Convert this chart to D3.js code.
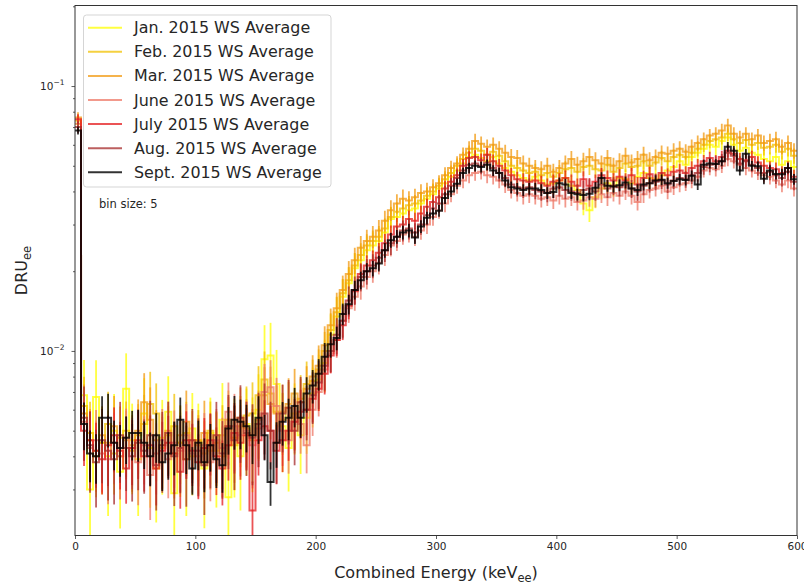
<!DOCTYPE html>
<html>
<head>
<meta charset="utf-8">
<script src="https://cdn.jsdelivr.net/npm/d3@7"></script>
<style>
body { margin: 0; background: #fff; }
text { font-family: "DejaVu Sans", sans-serif; }
</style>
</head>
<body>
<script>

var width = 804;
var height = 586;
var plot = {left: 75, right: 797, top: 5.5, bottom: 535.5};

const binSize = 5;
const unit = 1e-3;   // values below are in units of 1e-3 DRU

const labels = ['Jan. 2015 WS Average', 'Feb. 2015 WS Average', 'Mar. 2015 WS Average',
    'June 2015 WS Average', 'July 2015 WS Average', 'Aug. 2015 WS Average', 'Sept. 2015 WS Average'];

const jan = [
    72, 6.8, 3.0, 6.7, 4.5, 4.0, 5.0, 3.5, 7.2, 4.6,
    3.9, 5.8, 4.3, 3.6, 4.7, 5.9, 2.9, 4.5, 3.9, 5.1,
    4.6, 3.6, 4.9, 4.2, 5.5, 2.8, 4.7, 4.0, 5.3, 4.8,
    6.0, 9.3, 9.6, 7.5, 5.2, 4.3, 5.8, 4.8, 5.6, 6.9,
    7.8, 9.0, 11.5, 13.5, 16.0, 18.0, 20.5, 22.0, 24.0, 25.0,
    26.0, 28.0, 31.5, 32.0, 33.0, 34.0, 34.5, 36.0, 37.5, 39.0,
    41.0, 43.0, 45.5, 48.0, 51.0, 54.0, 55.0, 53.5, 52.0, 54.0,
    51.0, 49.0, 47.5, 46.0, 45.0, 44.0, 45.5, 44.0, 42.5, 43.0,
    44.0, 45.0, 42.0, 40.5, 36.0, 34.0, 38.0, 41.0, 43.0, 42.0,
    45.0, 44.5, 43.0, 45.5, 47.0, 45.0, 44.5, 46.0, 48.0, 49.5,
    52.0, 50.5, 54.0, 56.0, 58.0, 60.0, 59.0, 62.0, 64.0, 60.0,
    57.0, 58.5, 56.0, 55.0, 53.0, 52.0, 54.0, 50.5, 52.0, 49.5];

const feb = [
    74, 6.2, 4.9, 4.0, 4.5, 5.3, 4.1, 4.7, 5.0, 4.2,
    4.8, 5.3, 6.3, 5.8, 4.4, 4.8, 5.2, 4.5, 4.9, 4.0,
    4.6, 4.1, 5.0, 4.5, 4.8, 5.5, 4.4, 5.2, 5.7, 5.8,
    6.8, 7.8, 6.9, 5.9, 5.5, 6.1, 5.6, 6.6, 7.5, 7.7,
    8.5, 10.0, 12.0, 14.0, 16.5, 18.5, 21.0, 23.0, 25.0, 26.0,
    27.0, 29.0, 32.0, 33.5, 34.5, 35.5, 36.0, 37.0, 38.5, 40.0,
    42.0, 44.5, 47.0, 50.0, 53.0, 56.0, 58.0, 57.0, 55.0, 56.5,
    54.5, 52.0, 50.0, 49.0, 48.0, 47.0, 47.5, 46.0, 47.0, 45.5,
    47.0, 48.5, 49.0, 47.5, 49.5, 50.0, 48.5, 48.0, 50.5, 47.5,
    49.0, 51.0, 49.5, 50.0, 52.0, 50.0, 51.5, 53.5, 52.0, 54.0,
    55.0, 54.0, 56.0, 58.0, 60.0, 62.0, 63.0, 64.0, 66.0, 63.0,
    61.0, 62.5, 60.0, 61.0, 58.5, 59.0, 60.0, 56.5, 58.0, 54.5];

const mar = [
    76, 5.8, 4.6, 4.2, 4.8, 4.5, 5.2, 4.0, 4.6, 4.4,
    5.0, 6.4, 5.5, 4.6, 4.3, 5.0, 4.1, 4.8, 5.4, 4.6,
    4.4, 4.9, 4.2, 4.5, 4.0, 5.2, 4.7, 5.6, 5.1, 4.6,
    5.5, 6.8, 6.3, 5.8, 5.9, 6.3, 6.9, 6.4, 7.2, 8.0,
    8.8, 10.5, 12.5, 14.5, 17.0, 19.5, 22.0, 24.5, 26.0, 27.0,
    28.5, 31.0, 34.0, 36.0, 37.5, 37.0, 38.0, 39.5, 40.0, 41.5,
    43.0, 46.0, 49.0, 51.0, 55.0, 58.0, 62.0, 60.5, 59.0, 60.0,
    58.0, 56.0, 54.0, 53.5, 51.0, 50.0, 49.0, 48.5, 50.0, 47.5,
    49.0, 51.0, 53.0, 50.5, 52.0, 54.0, 52.5, 51.0, 53.5, 50.0,
    52.0, 54.5, 51.5, 53.0, 55.0, 52.5, 54.0, 56.0, 55.5, 57.0,
    58.0, 56.5, 59.0, 61.0, 63.0, 65.0, 66.0, 68.0, 71.0, 66.0,
    64.0, 66.0, 63.0, 65.0, 61.0, 62.0, 63.0, 59.0, 61.0, 57.0];

const june = [
    72, 5.4, 4.3, 4.6, 4.1, 3.9, 4.5, 4.0, 4.7, 4.3,
    3.8, 4.4, 3.4, 4.1, 4.6, 3.9, 4.5, 4.2, 4.8, 4.1,
    4.0, 4.4, 3.8, 4.6, 4.3, 5.9, 5.2, 4.8, 5.0, 4.4,
    5.1, 7.0, 7.3, 6.2, 5.0, 4.6, 5.4, 5.3, 4.4, 6.0,
    7.0, 8.5, 9.8, 11.0, 13.0, 14.5, 16.0, 17.5, 19.0, 20.0,
    21.5, 23.0, 25.0, 26.0, 27.5, 28.0, 27.0, 28.5, 30.0, 32.0,
    34.0, 36.0, 39.0, 42.0, 44.0, 46.0, 47.0, 47.5, 46.0, 45.5,
    44.0, 42.5, 40.5, 39.5, 38.5, 39.0, 38.5, 37.5, 38.0, 37.0,
    38.5, 37.5, 38.0, 36.5, 37.0, 38.0, 37.5, 39.0, 38.0, 39.5,
    38.5, 40.0, 38.5, 36.5, 39.0, 40.5, 41.0, 42.0, 40.0, 41.5,
    42.5, 43.0, 44.0, 45.5, 48.0, 49.0, 48.5, 50.0, 53.0, 52.0,
    50.5, 49.0, 48.0, 47.0, 46.0, 45.5, 44.0, 42.5, 44.0, 41.0];

const july = [
    75, 5.0, 4.6, 4.2, 3.9, 4.4, 4.8, 4.2, 3.6, 4.3,
    4.6, 4.0, 4.4, 3.6, 4.2, 4.5, 4.1, 3.5, 4.6, 4.2,
    3.8, 4.3, 4.6, 4.0, 3.6, 4.4, 4.9, 4.5, 4.8, 2.5,
    4.6, 5.2, 5.0, 4.2, 4.6, 5.0, 5.4, 5.9, 6.0, 6.6,
    7.2, 8.2, 9.6, 11.0, 12.5, 14.8, 16.8, 19.5, 21.0, 22.0,
    23.5, 25.5, 27.5, 29.5, 30.0, 31.5, 31.0, 33.0, 35.0, 36.5,
    38.0, 41.0, 43.5, 46.0, 50.0, 53.5, 54.0, 52.5, 55.0, 52.0,
    50.0, 48.0, 46.0, 44.5, 44.0, 43.5, 44.0, 43.0, 42.0, 43.5,
    44.0, 45.0, 43.5, 42.0, 44.5, 42.0, 43.5, 46.0, 45.0, 44.0,
    45.5, 44.0, 46.0, 42.5, 45.0, 46.5, 44.0, 47.0, 46.0, 47.5,
    48.0, 47.0, 49.0, 50.0, 52.0, 53.5, 52.0, 54.0, 57.0, 55.5,
    53.0, 52.5, 54.0, 51.5, 50.0, 49.0, 48.5, 47.0, 49.0, 45.5];

const aug = [
    70, 5.6, 4.4, 3.8, 4.6, 4.2, 3.9, 4.8, 4.3, 4.0,
    4.5, 4.2, 4.8, 3.7, 4.4, 4.9, 4.0, 4.3, 3.9, 4.6,
    4.2, 3.7, 4.4, 4.8, 4.1, 5.2, 4.6, 5.6, 4.9, 4.7,
    5.3, 5.8, 5.0, 4.5, 5.8, 6.1, 5.0, 6.4, 6.0, 6.8,
    7.6, 8.8, 10.0, 11.5, 13.0, 15.5, 17.0, 19.0, 20.0, 21.0,
    22.5, 24.0, 25.5, 27.0, 28.5, 29.0, 28.0, 30.0, 32.5, 34.5,
    36.0, 39.0, 42.0, 45.0, 48.0, 50.5, 51.0, 50.0, 51.5, 49.0,
    47.0, 45.0, 42.5, 41.5, 41.0, 41.5, 40.5, 40.0, 39.5, 41.0,
    41.5, 40.5, 40.0, 39.5, 40.5, 41.0, 40.0, 42.5, 41.0, 42.0,
    41.5, 42.5, 41.0, 40.0, 42.0, 43.0, 43.5, 44.0, 42.5, 44.0,
    45.0, 44.5, 46.0, 47.0, 49.5, 50.5, 51.0, 52.0, 56.0, 54.5,
    51.0, 52.0, 50.5, 49.0, 47.0, 47.5, 46.0, 45.0, 47.5, 43.5];

const sept = [
    68, 5.3, 4.1, 4.0, 5.6, 5.6, 4.5, 4.3, 4.7, 4.9,
    4.9, 4.5, 4.0, 4.8, 3.8, 4.1, 4.4, 5.5, 4.4, 3.6,
    4.5, 3.8, 4.4, 3.9, 3.7, 5.1, 5.5, 5.4, 5.2, 4.8,
    5.6, 4.8, 3.2, 4.5, 5.4, 5.6, 6.2, 5.6, 6.9, 7.4,
    8.2, 9.5, 10.6, 11.2, 13.8, 15.0, 17.0, 18.5, 20.0, 20.5,
    21.4, 24.0, 26.2, 27.0, 28.0, 28.5, 26.8, 29.5, 31.8, 33.0,
    33.8, 37.8, 40.0, 42.8, 47.0, 49.0, 50.0, 49.5, 50.5, 48.0,
    47.0, 44.0, 41.5, 41.0, 40.5, 41.0, 41.0, 40.5, 39.5, 39.8,
    43.0, 42.5, 39.5, 39.0, 38.8, 39.2, 41.3, 45.0, 42.0, 41.8,
    42.2, 43.2, 41.0, 40.5, 42.5, 43.0, 44.0, 44.3, 43.0, 43.8,
    44.5, 44.2, 45.8, 42.5, 50.5, 51.0, 50.8, 52.0, 59.0, 57.0,
    48.0, 55.5, 50.0, 49.8, 44.7, 48.0, 46.6, 46.5, 49.0, 44.5];

// relative error of each bin (same binning for every month)
const relErr = [
    0.04, 0.24, 0.26, 0.25, 0.24, 0.27, 0.25, 0.26, 0.24, 0.25,
    0.26, 0.24, 0.27, 0.25, 0.26, 0.24, 0.27, 0.25, 0.26, 0.24,
    0.25, 0.27, 0.24, 0.26, 0.25, 0.24, 0.27, 0.25, 0.24, 0.26,
    0.24, 0.23, 0.22, 0.23, 0.22, 0.21, 0.20, 0.19, 0.18, 0.17,
    0.16, 0.15, 0.13, 0.12, 0.11, 0.10, 0.095, 0.09, 0.085, 0.08,
    0.08, 0.075, 0.075, 0.07, 0.07, 0.07, 0.065, 0.065, 0.065, 0.06,
    0.06, 0.06, 0.055, 0.055, 0.055, 0.055, 0.055, 0.055, 0.055, 0.055,
    0.055, 0.06, 0.06, 0.06, 0.06, 0.06, 0.06, 0.06, 0.06, 0.06,
    0.06, 0.06, 0.06, 0.06, 0.065, 0.065, 0.06, 0.06, 0.06, 0.06,
    0.06, 0.06, 0.06, 0.06, 0.06, 0.06, 0.055, 0.055, 0.055, 0.055,
    0.055, 0.055, 0.055, 0.055, 0.05, 0.05, 0.05, 0.05, 0.05, 0.05,
    0.05, 0.05, 0.05, 0.05, 0.055, 0.055, 0.055, 0.055, 0.055, 0.055];
const errWeight = [1.5, 1.2, 1.2, 1.2, 1.1, 1.3, 0.85];

const xTicks = [0, 100, 200, 300, 400, 500, 600];
const yMajor = [0.01, 0.1];
const yMajorExp = ['\u22122', '\u22121'];
const yMinor = [0.003, 0.004, 0.005, 0.006, 0.007, 0.008, 0.009,
    0.02, 0.03, 0.04, 0.05, 0.06, 0.07, 0.08, 0.09, 0.2];

const allSeries = [jan, feb, mar, june, july, aug, sept];
const colors = ['#ffff00', '#f2c200', '#f29a10', '#ee7766', '#e41a1c', '#a52a2a', '#000000'];


var xScale = d3.scaleLinear()
    .domain([0, 600])
    .range([plot.left, plot.right]);
var yScale = d3.scaleLog()
    .domain([0.00201, 0.2014])
    .range([plot.bottom, plot.top]);

let svg = d3.select('body')
    .append('svg')
        .attr('width', width)
        .attr('height', height);

svg.append('clipPath')
    .attr('id', 'clip')
    .append('rect')
        .attr('x', plot.left)
        .attr('y', plot.top)
        .attr('width', plot.right - plot.left)
        .attr('height', plot.bottom - plot.top);

var stepLine = d3.line()
    .x(d => xScale(d[0]))
    .y(d => yScale(d[1]))
    .curve(d3.curveStepAfter);

var plotArea = svg.append('g').attr('clip-path', 'url(#clip)');

allSeries.forEach(function(vals, s) {
    var pts = vals.map((v, i) => [i * binSize, v * unit]);
    pts.push([vals.length * binSize, vals[vals.length - 1] * unit]);

    var g = plotArea.append('g')
        .attr('stroke', colors[s])
        .attr('stroke-opacity', s == 6 ? 0.8 : 0.75)
        .attr('fill', 'none');

    g.append('path')
        .datum(pts)
        .attr('stroke-width', 2)
        .attr('d', stepLine);

    // error bars at bin centres
    g.selectAll('.err')
        .data(vals)
        .enter().append('line')
            .attr('class', 'err')
            .attr('stroke-width', 1.8)
            .attr('x1', (v, i) => xScale(i * binSize + binSize / 2))
            .attr('x2', (v, i) => xScale(i * binSize + binSize / 2))
            .attr('y1', (v, i) => yScale(Math.max(v * unit * (1 - relErr[i] * errWeight[s]), 1e-4)))
            .attr('y2', (v, i) => yScale(v * unit * (1 + relErr[i] * errWeight[s])));
});


// axes
var xAxis = d3.axisBottom(xScale)
    .tickValues(xTicks)
    .tickSize(3.5)
    .tickPadding(3.5)
    .tickSizeOuter(0);

var gx = svg.append('g')
    .attr('class', 'x axis')
    .attr('transform', 'translate(0,' + plot.bottom + ')')
    .call(xAxis);
gx.select('.domain').remove();
gx.selectAll('text')
    .attr('font-family', 'DejaVu Sans')
    .attr('font-size', 10.5)
    .attr('fill', '#262626');

var yAxis = d3.axisLeft(yScale)
    .tickValues(yMajor)
    .tickSize(3.5)
    .tickPadding(7)
    .tickFormat(() => '');

var gy = svg.append('g')
    .attr('class', 'y axis')
    .attr('transform', 'translate(' + plot.left + ',0)')
    .call(yAxis);
gy.select('.domain').remove();
gy.selectAll('.tick text').each(function(d, i) {
    var t = d3.select(this)
        .attr('font-family', 'DejaVu Sans')
        .attr('font-size', 10.5)
        .attr('fill', '#262626');
    t.append('tspan').text('10');
    t.append('tspan')
        .attr('dy', -4.5)
        .attr('font-size', 7.5)
        .text(yMajorExp[i]);
});

var gyMinor = svg.append('g')
    .attr('transform', 'translate(' + plot.left + ',0)')
    .call(d3.axisLeft(yScale).tickValues(yMinor).tickSize(2).tickFormat(() => ''));
gyMinor.select('.domain').remove();

svg.selectAll('.tick line').attr('stroke', '#333').attr('stroke-width', 0.8);

// frame
svg.append('rect')
    .attr('x', plot.left)
    .attr('y', plot.top)
    .attr('width', plot.right - plot.left)
    .attr('height', plot.bottom - plot.top)
    .attr('fill', 'none')
    .attr('stroke', '#333')
    .attr('stroke-width', 1);

// axis labels
var xl = svg.append('text')
    .attr('x', (plot.left + plot.right) / 2)
    .attr('y', 578)
    .attr('text-anchor', 'middle')
    .attr('font-size', 16)
    .attr('fill', '#262626');
xl.append('tspan').text('Combined Energy (keV');
xl.append('tspan').attr('dy', 4).attr('font-size', 11.5).text('ee');
xl.append('tspan').attr('dy', -4).text(')');

var yl = svg.append('text')
    .attr('transform', 'translate(27,' + (plot.top + plot.bottom) / 2 + ') rotate(-90)')
    .attr('text-anchor', 'middle')
    .attr('font-size', 16)
    .attr('fill', '#262626');
yl.append('tspan').text('DRU');
yl.append('tspan').attr('dy', 4).attr('font-size', 11.5).text('ee');

svg.append('text')
    .attr('x', 99)
    .attr('y', 207.5)
    .attr('font-size', 11.5)
    .attr('fill', '#262626')
    .text('bin size: 5');

// legend
var legend = svg.append('g');
legend.append('rect')
    .attr('x', 83.5)
    .attr('y', 15)
    .attr('width', 247.5)
    .attr('height', 172)
    .attr('rx', 3)
    .attr('fill', 'white')
    .attr('fill-opacity', 0.8)
    .attr('stroke', '#d5d5d5');

labels.forEach(function(name, i) {
    var ly = 27.7 + 24.1 * i;
    legend.append('line')
        .attr('x1', 88).attr('x2', 122)
        .attr('y1', ly).attr('y2', ly)
        .attr('stroke', colors[i])
        .attr('stroke-opacity', i == 6 ? 0.8 : 0.75)
        .attr('stroke-width', 2);
    legend.append('text')
        .attr('x', 134)
        .attr('y', ly + 5.5)
        .attr('font-size', 15.9)
        .attr('fill', '#262626')
        .text(name);
});

</script>
</body>
</html>
